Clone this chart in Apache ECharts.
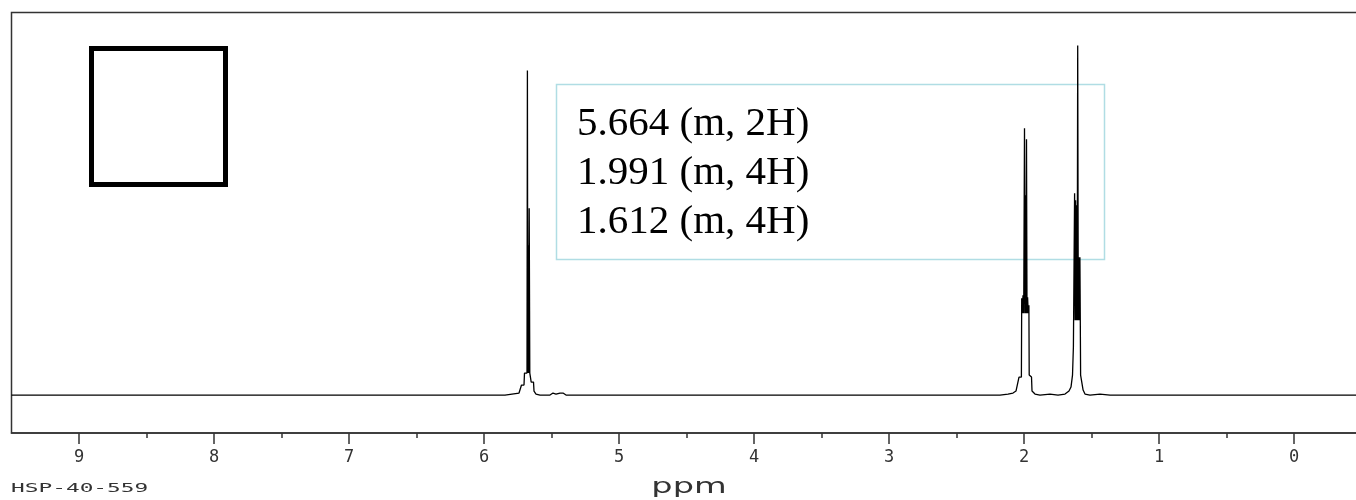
<!DOCTYPE html>
<html><head><meta charset="utf-8">
<script src="https://cdn.jsdelivr.net/npm/echarts@6/dist/echarts.min.js"></script>
<style>html,body{margin:0;padding:0;background:#fff}#c{width:1356px;height:500px}</style>
</head><body><div id="c"></div>
<script>
// chemical shift (ppm) and relative intensity
const ppm = [
  9.5, 5.8444, 5.7926, 5.7407, 5.7222, 5.7037, 5.7000, 5.6815, 5.6785, 5.6756,
  5.6726, 5.6696, 5.6652, 5.6607, 5.6548, 5.6504, 5.6333, 5.6296, 5.6148, 5.5852,
  5.5111, 5.4889, 5.4667, 5.4370, 5.4148, 5.3926,
  2.1778, 2.1185, 2.0815, 2.0593, 2.0370, 2.0193, 2.0170, 2.0126, 2.0074, 2.0022,
  1.9963, 1.9919, 1.9881, 1.9852, 1.9815, 1.9778, 1.9733, 1.9689, 1.9637, 1.9615,
  1.9444, 1.9407, 1.9185, 1.8815, 1.8074, 1.7481,
  1.7333, 1.6963, 1.6667, 1.6519, 1.6407, 1.6363, 1.6341, 1.6281, 1.6252, 1.6215,
  1.6178, 1.6141, 1.6104, 1.6059, 1.6022, 1.5978, 1.5933, 1.5896, 1.5859, 1.5830,
  1.5807, 1.5659, 1.5622, 1.5481, 1.5111, 1.4370, 1.3630, -0.5
];
const intensity = [
  0, 0, 1, 2, 10, 10, 22, 22, 325, 22,
  150, 22, 187, 22, 22, 13, 13, 4, 1, 0,
  0, 2, 1, 2, 2, 0,
  0, 1, 2, 4, 18, 18, 97, 82, 100, 82,
  267, 82, 200, 82, 256, 82, 98, 82, 90, 20,
  18, 4, 1, 0, 1, 0,
  0, 1, 4, 8, 20, 20, 48, 48, 202, 75,
  195, 75, 190, 75, 350, 75, 138, 75, 138, 75,
  20, 18, 5, 1, 0, 1, 0, 0
];
const majorTicks = [0, 1, 2, 3, 4, 5, 6, 7, 8, 9];
const minorTicks = [0.5, 1.5, 2.5, 3.5, 4.5, 5.5, 6.5, 7.5, 8.5];
const annotations = ['5.664 (m, 2H)', '1.991 (m, 4H)', '1.612 (m, 4H)'];
const axisName = 'ppm';
const sampleId = 'HSP-40-559';

const chart = echarts.init(document.getElementById('c'), null, {renderer: 'canvas'});
const axisColor = '#333';
const baseX = {
  type: 'value', min: -0.5, max: 9.5, inverse: true, position: 'bottom', offset: 0,
  gridIndex: 0, splitLine: {show: false}
};
chart.setOption({
  animation: false,
  backgroundColor: '#fff',
  grid: {left: 11.5, right: -5.5, top: 12.5, bottom: 67, show: true,
         outerBoundsMode: 'none', containLabel: false,
         borderColor: axisColor, borderWidth: 1.5, backgroundColor: 'transparent'},
  xAxis: [
    Object.assign({}, baseX, {
      axisLine: {show: true, onZero: false, lineStyle: {color: axisColor, width: 1.5}},
      axisTick: {show: true, length: 11, lineStyle: {color: axisColor, width: 1.5}, customValues: majorTicks},
      axisLabel: {show: true, customValues: majorTicks, margin: 16, color: '#333',
                  fontFamily: 'DejaVu Sans Mono', fontSize: 17}
    }),
    Object.assign({}, baseX, {
      axisLine: {show: false, onZero: false},
      axisTick: {show: true, length: 5, lineStyle: {color: axisColor, width: 1.5}, customValues: minorTicks},
      axisLabel: {show: false}
    })
  ],
  yAxis: {type: 'value', min: -38, max: 383, show: false},
  series: [{
    type: 'line', xAxisIndex: 0, showSymbol: false, symbol: 'none',
    lineStyle: {color: '#000', width: 1.3}, z: 5,
    data: ppm.map((p, i) => [p, intensity[i]])
  }],
  graphic: [
    {type: 'rect', shape: {x: 91.5, y: 48.5, width: 134, height: 136},
     style: {fill: 'none', stroke: '#000', lineWidth: 5}},
    {type: 'rect', shape: {x: 556.5, y: 84.5, width: 548, height: 175},
     style: {fill: 'none', stroke: '#b0dde4', lineWidth: 1.5}},
    ...annotations.map((t, i) => ({
      type: 'text', x: 577, y: 124.5 + 49 * i,
      style: {text: t, fontFamily: 'Liberation Serif', fontSize: 41, fill: '#000', verticalAlign: 'middle'}
    })),
    {type: 'text', x: 689, y: 488, scaleX: 1.6,
     style: {text: axisName, fontFamily: 'DejaVu Sans', fontSize: 21, fill: '#333',
             align: 'center', verticalAlign: 'middle'}},
    {type: 'text', x: 11, y: 489, scaleX: 1.9,
     style: {text: sampleId, fontFamily: 'DejaVu Sans Mono', fontSize: 12, fill: '#333', verticalAlign: 'middle'}}
  ]
});
</script>
</body></html>
